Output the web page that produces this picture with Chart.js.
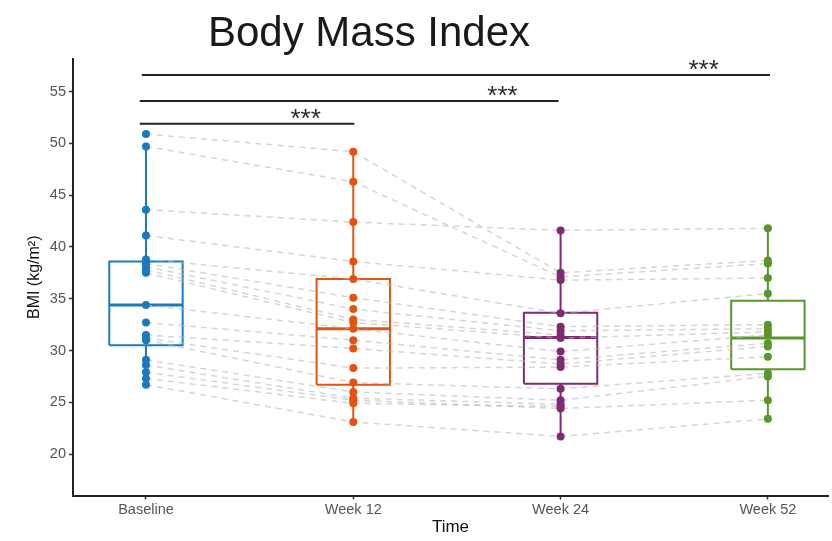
<!DOCTYPE html>
<html>
<head>
<meta charset="utf-8">
<script src="https://cdn.jsdelivr.net/npm/chart.js@4/dist/chart.umd.min.js"></script>
<style>
  html, body { margin: 0; padding: 0; background: #fff; }
</style>
</head>
<body>
<canvas id="bmiChart" width="832" height="541"></canvas>
<script>
const timepoints = ['Baseline', 'Week 12', 'Week 24', 'Week 52'];

// BMI per subject (same index = same subject), null = missing
const baseline = [50.9, 49.7, 43.6, 41.1, 38.8, 38.4, 38.1, 37.8, 37.5, 34.4, 32.7, 31.5, 31.2, 31.0, 29.1, 28.6, 27.9, 27.3, 26.7];
const week12   = [49.2, 46.3, 42.4, 38.6, 36.9, 35.1, 34.0, 33.0, 32.7, 32.1, 31.0, 30.2, 28.3, 26.9, 26.0, 25.4, 25.2, 24.9, 23.1];
const week24   = [37.5, 37.1, 41.6, 36.8, 33.6, 32.3, 31.9, 31.5, 31.2, 29.9, 29.1, 28.7, 28.4, 26.3, 25.2, 24.8, 24.4, 24.6, 21.7];
const week52   = [38.7, 38.4, 41.8, 37.0, 35.5, 32.5, 32.1, null, 31.8, 31.5, 30.7, 30.4, 29.4, 27.8, 27.5, null, 25.2, null, 23.4];

// boxplot stats
const whiskerLow  = [26.7, 23.1, 21.7, 23.4];
const boxQ1       = [30.5, 26.7, 26.8, 28.2];
const boxMedian   = [34.4, 32.1, 31.25, 31.2];
const boxQ3       = [38.6, 36.9, 33.65, 34.8];
const whiskerHigh = [49.7, 49.2, 41.6, 41.8];

// significance brackets
const bracketFrom  = [0.97, 0.97, 0.98];
const bracketTo    = [2.005, 2.99, 4.01];
const bracketY     = [51.9, 54.1, 56.6];
const bracketStarX = [1.77, 2.72, 3.69];
const bracketLabel = ['***', '***', '***'];

const groupColors = ['#1a7abf', '#e4530f', '#7e2b72', '#5a962b'];
const FONT = '"Liberation Sans", Arial, Helvetica, sans-serif';
const HALF = 0.177;

const series = [baseline, week12, week24, week52];
const datasets = [];

// boxes + whiskers
series.forEach((vals, g) => {
  const c = g + 1, col = groupColors[g];
  const base = { showLine: true, pointRadius: 0, borderColor: col, borderWidth: 2, tension: 0, order: 5, borderJoinStyle: 'miter' };
  datasets.push(Object.assign({}, base, { data: [
    {x: c - HALF, y: boxQ1[g]}, {x: c + HALF, y: boxQ1[g]}, {x: c + HALF, y: boxQ3[g]},
    {x: c - HALF, y: boxQ3[g]}, {x: c - HALF, y: boxQ1[g]}] }));
  datasets.push(Object.assign({}, base, { borderWidth: 3, data: [{x: c - HALF, y: boxMedian[g]}, {x: c + HALF, y: boxMedian[g]}] }));
  datasets.push(Object.assign({}, base, { data: [{x: c, y: whiskerLow[g]}, {x: c, y: boxQ1[g]}] }));
  datasets.push(Object.assign({}, base, { data: [{x: c, y: boxQ3[g]}, {x: c, y: whiskerHigh[g]}] }));
});

// subject trajectories
baseline.forEach((_, s) => {
  const pts = [];
  series.forEach((vals, g) => { if (vals[s] != null) pts.push({x: g + 1, y: vals[s]}); });
  datasets.push({ showLine: true, data: pts, pointRadius: 0, borderColor: 'rgba(185,185,185,0.6)',
    borderWidth: 1.5, borderDash: [6, 5], tension: 0, order: 3 });
});

// points
series.forEach((vals, g) => {
  datasets.push({ data: vals.filter(v => v != null).map(v => ({x: g + 1, y: v})),
    pointRadius: 4, pointBackgroundColor: groupColors[g], pointBorderColor: groupColors[g],
    pointBorderWidth: 0, order: 1 });
});

// brackets
bracketY.forEach((y, i) => {
  datasets.push({ showLine: true, data: [{x: bracketFrom[i], y: y}, {x: bracketTo[i], y: y}],
    pointRadius: 0, borderColor: '#222', borderWidth: 2, order: 2 });
});

const extras = {
  id: 'extras',
  afterDraw(chart) {
    const ctx = chart.ctx, xs = chart.scales.x, ys = chart.scales.y;
    ctx.save();
    ctx.fillStyle = '#1a1a1a';
    ctx.font = '42px ' + FONT;
    ctx.textAlign = 'center';
    ctx.textBaseline = 'alphabetic';
    ctx.fillText('Body Mass Index', 369, 46);
    ctx.fillStyle = '#2b2b2b';
    ctx.font = '26px ' + FONT;
    ctx.textBaseline = 'middle';
    bracketY.forEach((y, i) => {
      ctx.fillText(bracketLabel[i], xs.getPixelForValue(bracketStarX[i]), ys.getPixelForValue(y) - 4);
    });
    ctx.restore();
  }
};

new Chart(document.getElementById('bmiChart'), {
  type: 'scatter',
  data: { datasets: datasets },
  plugins: [extras],
  options: {
    responsive: false,
    animation: false,
    layout: { padding: { top: 59, left: 0, right: 0, bottom: 0 } },
    plugins: { legend: { display: false }, tooltip: { enabled: false }, title: { display: false } },
    scales: {
      x: {
        type: 'linear', min: 0.648, max: 4.29,
        afterBuildTicks: s => { s.ticks = timepoints.map((_, i) => ({ value: i + 1 })); },
        afterFit: s => { s.height = 45.5; },
        ticks: { callback: v => timepoints[v - 1], color: '#555', font: { family: FONT, size: 14.5 }, padding: 2, maxRotation: 0 },
        grid: { drawOnChartArea: false, drawTicks: true, tickLength: 4, color: '#333', tickWidth: 1.5 },
        border: { display: true, color: '#222', width: 2 },
        title: { display: true, text: 'Time', color: '#111', font: { family: FONT, size: 17 }, padding: { top: 0, bottom: 3 } }
      },
      y: {
        min: 16, max: 58.15,
        afterBuildTicks: s => { s.ticks = [20, 25, 30, 35, 40, 45, 50, 55].map(v => ({ value: v })); },
        afterFit: s => { s.width = 73; },
        ticks: { color: '#555', font: { family: FONT, size: 14.5 }, padding: 3 },
        grid: { drawOnChartArea: false, drawTicks: true, tickLength: 4, color: '#333', tickWidth: 1.5 },
        border: { display: true, color: '#222', width: 2 },
        title: { display: true, text: 'BMI (kg/m²)', color: '#111', font: { family: FONT, size: 16 }, padding: { top: 25, bottom: 0 } }
      }
    }
  }
});
</script>
</body>
</html>
